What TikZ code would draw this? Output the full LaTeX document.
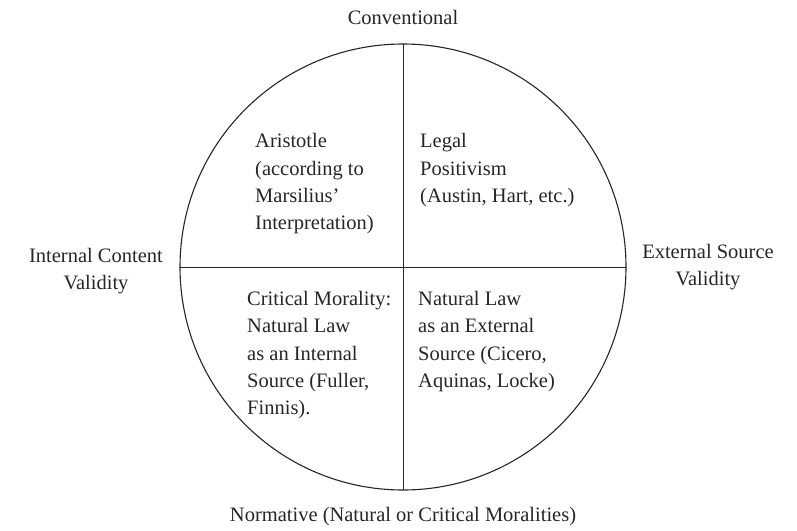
\documentclass[tikz,border=0pt]{standalone}
\usepackage{fontspec}
\setmainfont{Liberation Serif}
\begin{document}
\begin{tikzpicture}[x=1pt,y=-1pt,
  lbl/.style={inner sep=0pt,font=\fontsize{20.5}{27.3}\selectfont,text=black!85},
  quad/.style={lbl,align=left,anchor=north west},
  side/.style={lbl,align=center,anchor=north},
  rim/.style={line width=1.1pt,black!85},
  axis/.style={line width=0.9pt,black!85}]
\useasboundingbox (0,0) rectangle (797,530);
\node[draw=none,circle,minimum size=446pt,inner sep=0pt] (c) at (403,267) {};
\draw[rim] (c.center) circle[radius=223pt];
\draw[axis] (c.north) -- (c.south);
\draw[axis] (c.west) -- (c.east);
\node[lbl,anchor=base] (conv) at (403,24) {Conventional};
\node[lbl,anchor=base] (norm) at (403,521) {Normative (Natural or Critical Moralities)};
\node[side] (int) at (96,248) {Internal Content\\Validity};
\node[side] (ext) at (708,244) {External Source\\Validity};
\node[quad] (tl) at (255,133.5) {Aristotle\\(according to\\Marsilius’\\Interpretation)};
\node[quad] (tr) at (420,133.5) {Legal\\Positivism\\(Austin, Hart, etc.)};
\node[quad] (bl) at (247,291) {Critical Morality:\\Natural Law\\as an Internal\\Source (Fuller,\\Finnis).};
\node[quad] (br) at (418,291) {Natural Law\\as an External\\Source (Cicero,\\Aquinas, Locke)};
\end{tikzpicture}
\end{document}
